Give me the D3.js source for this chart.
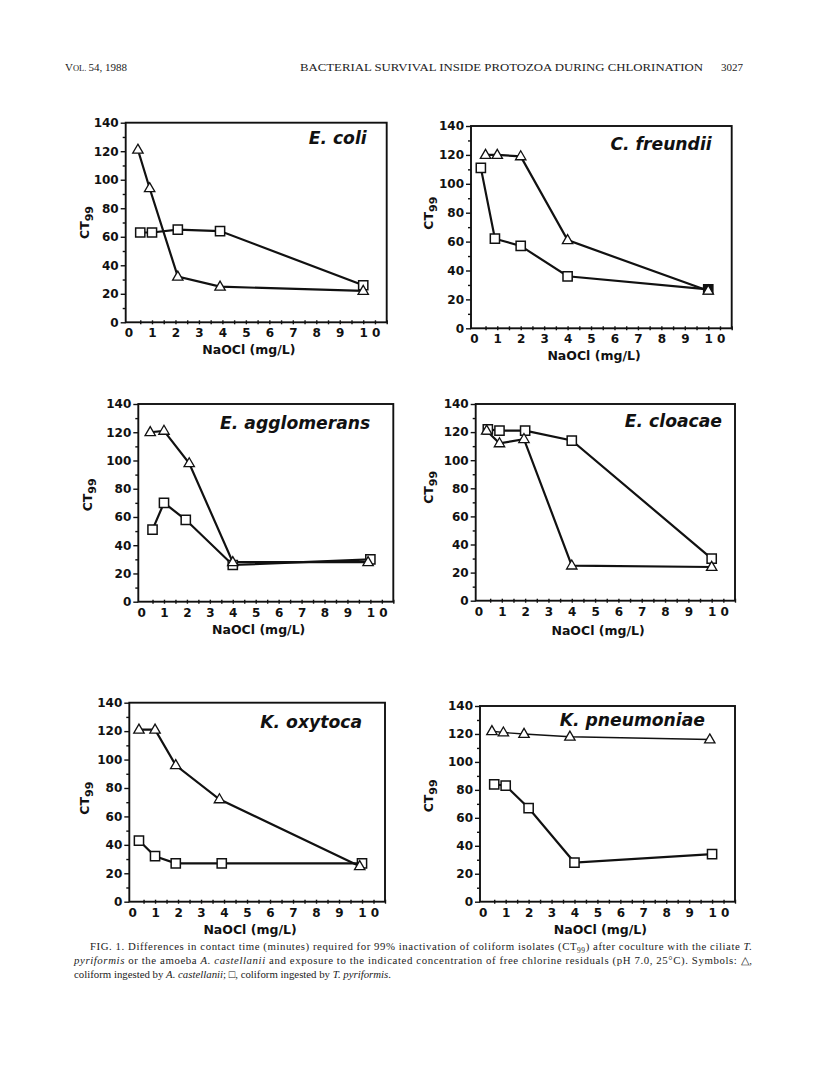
<!DOCTYPE html>
<html lang="en">
<head>
<meta charset="UTF-8">
<title>Fig. 1 - Bacterial survival inside protozoa</title>
<style>
  body { margin: 0; background: #fff; }
  svg { display: block; }
  .tick text { font-family: "DejaVu Sans", sans-serif; font-weight: bold; font-size: 12px; fill: #111; }
  .tick line { stroke: #111; stroke-width: 1.4; }
  .frame { fill: none; stroke: #111; stroke-width: 1.9; }
  .title { font-family: "DejaVu Sans", sans-serif; font-weight: bold; font-style: italic; font-size: 17.2px; fill: #111; }
  .lab { font-family: "DejaVu Sans", sans-serif; font-weight: bold; font-size: 12.5px; fill: #111; }
  .serif { font-family: "Liberation Serif", serif; fill: #222; }
</style>
</head>
<body>
<svg id="fig" width="816" height="1080"></svg>

<script src="https://cdn.jsdelivr.net/npm/d3@7/dist/d3.min.js"></script>
<script>
// Data
var species = ["E. coli", "C. freundii", "E. agglomerans", "E. cloacae", "K. oxytoca", "K. pneumoniae"];
var xTicks = [0, 1, 2, 3, 4, 5, 6, 7, 8, 9, 10];
var yTicks = [0, 20, 40, 60, 80, 100, 120, 140];

// triangles: coliform ingested by A. castellanii
var triX = [
    [0.4, 0.9, 2.1, 3.9, 10],
    [0.5, 1, 2, 4, 10],
    [0.4, 1, 2.1, 4, 9.9],
    [0.35, 0.9, 1.95, 4, 10],
    [0.3, 1, 1.9, 3.8, 9.9],
    [0.4, 0.9, 1.8, 3.8, 9.9]
];
var triY = [
    [121, 94, 32, 25, 22],
    [120, 120, 119, 61, 26],
    [120, 121, 98, 28, 28],
    [121, 112, 115, 25, 24],
    [121, 121, 96, 72, 25],
    [122, 121, 120, 118, 116]
];
// squares: coliform ingested by T. pyriformis
var sqX = [
    [0.5, 1, 2.1, 3.9, 10],
    [0.3, 0.9, 2, 4, 10],
    [0.5, 1, 1.95, 4, 10],
    [0.4, 0.9, 2, 4, 10],
    [0.3, 1, 1.9, 3.9, 10],
    [0.5, 1, 2, 4, 10]
];
var sqY = [
    [63, 63, 65, 64, 26],
    [111, 62, 57, 36, 27],
    [51, 70, 58, 26, 30],
    [122, 121, 121, 114, 30],
    [43, 32, 27, 27, 27],
    [84, 83, 67, 28, 34]
];

// Layout (pixels): plot frame, title anchor, axis label offsets
var frames = [
    { l: 125.7, t: 122.7, r: 386.7, b: 322.3, tx: -20, ty: 21, ylx: -41, yly: 0, xly: 32 },
    { l: 471.0, t: 126.0, r: 731.7, b: 328.3, tx: -20, ty: 24, ylx: -42, yly: -14, xly: 32 },
    { l: 138.3, t: 404.0, r: 393.3, b: 601.7, tx: -23, ty: 25, ylx: -51, yly: -8, xly: 32 },
    { l: 475.7, t: 404.0, r: 735.0, b: 600.7, tx: -13, ty: 23, ylx: -47, yly: -15, xly: 34 },
    { l: 129.3, t: 702.7, r: 385.0, b: 901.7, tx: -23, ty: 25, ylx: -45, yly: -4, xly: 32 },
    { l: 480.0, t: 706.0, r: 735.0, b: 901.7, tx: -30, ty: 20, ylx: -51, yly: -8, xly: 32 }
];
var triWidth = [2.2, 2.2, 2.2, 2.2, 2.2, 1.4];

var svg = d3.select("#fig");

// Running head
var head = svg.append("g").attr("class", "serif").style("font-size", "11px");
var vol = head.append("text").attr("x", 65).attr("y", 71);
vol.append("tspan").text("V");
vol.append("tspan").style("font-size", "8.5px").text("OL. ");
vol.append("tspan").text("54, 1988");
head.append("text").attr("x", 300).attr("y", 71)
    .attr("textLength", 403).attr("lengthAdjust", "spacingAndGlyphs")
    .text("BACTERIAL SURVIVAL INSIDE PROTOZOA DURING CHLORINATION");
head.append("text").attr("x", 721).attr("y", 71).text("3027");

// Markers
const triPath = "M0,-5.6L5.2,3.4L-5.2,3.4Z";
const sqPath = "M-4.6,-4.6H4.6V4.6H-4.6Z";

const drawPanel = (i) => {
    const f = frames[i];
    const x = d3.scaleLinear().domain([-0.12, 11]).range([f.l, f.r]);
    const y = d3.scaleLinear().domain([0, 140]).range([f.b, f.t]);
    const g = svg.append("g");

    // y axis: major ticks with labels, minor ticks between
    g.append("g").attr("transform", "translate(" + f.l + ",0)")
        .call(d3.axisLeft(y).tickValues(d3.range(10, 140, 20)).tickSize(3).tickFormat(""))
        .call(a => a.select(".domain").remove());
    g.append("g").attr("transform", "translate(" + f.l + ",0)")
        .call(d3.axisLeft(y).tickValues(yTicks).tickSize(5).tickPadding(2))
        .call(a => a.select(".domain").remove());

    // x axis: short ticks straddling the line every 0.5, labels below
    g.append("g").attr("transform", "translate(0," + (f.b - 2) + ")")
        .call(d3.axisBottom(x).tickValues(d3.range(0.5, 11.01, 0.5)).tickSize(4).tickFormat(""))
        .call(a => a.select(".domain").remove());
    const xa = g.append("g").attr("transform", "translate(0," + f.b + ")")
        .call(d3.axisBottom(x).tickValues(xTicks).tickSize(0).tickPadding(6.5)
            .tickFormat(d => d === 10 ? "1 0" : d))
        .call(a => a.select(".domain").remove());
    xa.selectAll(".tick text").filter(d => d === 10)
        .attr("text-anchor", "start").attr("x", -4.2);

    // frame
    g.append("rect").attr("class", "frame")
        .attr("x", f.l).attr("y", f.t)
        .attr("width", f.r - f.l).attr("height", f.b - f.t);

    // axis labels
    const yl = g.append("text").attr("class", "lab")
        .attr("text-anchor", "middle")
        .attr("transform", "translate(" + (f.l + f.ylx) + "," + ((f.t + f.b) / 2 + f.yly) + ") rotate(-90)")
        .attr("dy", "0.35em");
    yl.append("tspan").text("CT");
    yl.append("tspan").attr("dy", "0.35em").style("font-size", "11px").text("99");

    g.append("text").attr("class", "lab")
        .attr("text-anchor", "middle")
        .attr("x", (x(0) + x(10)) / 2 + 3)
        .attr("y", f.b + f.xly)
        .text("NaOCl (mg/L)");

    // title
    g.append("text").attr("class", "title")
        .attr("text-anchor", "end")
        .attr("x", f.r + f.tx).attr("y", f.t + f.ty)
        .text(species[i]);

    // series
    const line = d3.line().x(d => x(d[0])).y(d => y(d[1]));
    const sq = sqX[i].map((v, k) => [v, sqY[i][k]]);
    const tri = triX[i].map((v, k) => [v, triY[i][k]]);

    g.append("path").datum(sq).attr("d", line)
        .attr("fill", "none").attr("stroke", "#111").attr("stroke-width", 2.2);
    g.append("path").datum(tri).attr("d", line)
        .attr("fill", "none").attr("stroke", "#111").attr("stroke-width", triWidth[i]);

    g.selectAll(".sq").data(sq).enter().append("path")
        .attr("class", "sq")
        .attr("d", sqPath)
        .attr("transform", d => "translate(" + x(d[0]) + "," + y(d[1]) + ")")
        .attr("fill", (d, k) => (i === 1 && k === sq.length - 1) ? "#111" : "#fff")
        .attr("stroke", "#111").attr("stroke-width", 1.5);
    g.selectAll(".tri").data(tri).enter().append("path")
        .attr("class", "tri")
        .attr("d", triPath)
        .attr("transform", d => "translate(" + x(d[0]) + "," + y(d[1]) + ")")
        .attr("fill", "#fff")
        .attr("stroke", "#111").attr("stroke-width", 1.3);
};

species.forEach((s, i) => drawPanel(i));

// Caption
var cap = svg.append("g").attr("class", "serif").style("font-size", "10.8px");
var c1 = cap.append("text").attr("x", 90).attr("y", 950)
    .attr("textLength", 662).attr("lengthAdjust", "spacing");
c1.append("tspan").text("FIG. 1. Differences in contact time (minutes) required for 99% inactivation of coliform isolates (CT");
c1.append("tspan").attr("dy", 2.5).style("font-size", "7.5px").text("99");
c1.append("tspan").attr("dy", -2.5).text(") after coculture with the ciliate ");
c1.append("tspan").style("font-style", "italic").text("T.");

var c2 = cap.append("text").attr("x", 74).attr("y", 964)
    .attr("textLength", 678).attr("lengthAdjust", "spacing");
c2.append("tspan").style("font-style", "italic").text("pyriformis");
c2.append("tspan").text(" or the amoeba ");
c2.append("tspan").style("font-style", "italic").text("A. castellanii");
c2.append("tspan").text(" and exposure to the indicated concentration of free chlorine residuals (pH 7.0, 25°C). Symbols: \u25B3,");

var c3 = cap.append("text").attr("x", 74).attr("y", 978);
c3.append("tspan").text("coliform ingested by ");
c3.append("tspan").style("font-style", "italic").text("A. castellanii");
c3.append("tspan").text("; \u25A1, coliform ingested by ");
c3.append("tspan").style("font-style", "italic").text("T. pyriformis");
c3.append("tspan").text(".");
</script>
</body>
</html>
